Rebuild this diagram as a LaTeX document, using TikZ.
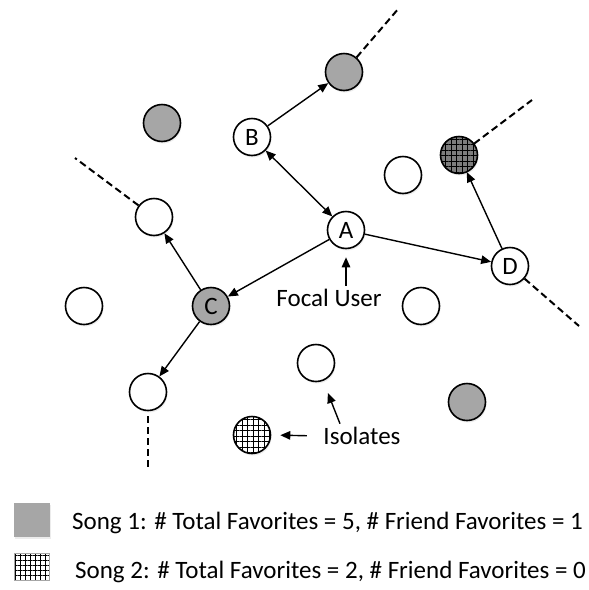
\documentclass[tikz,border=0pt]{standalone}
\usepackage{fontspec}
\setmainfont{Carlito}
\usetikzlibrary{arrows.meta,patterns.meta,shadows}
\definecolor{songgray}{RGB}{166, 166, 166}
\definecolor{songdark}{RGB}{125, 125, 125}

\tikzset{
	user/.style={circle, draw, line width=1.6pt, fill=white, minimum size=37pt, inner sep=0pt,
		drop shadow={shadow xshift=1pt, shadow yshift=-2pt, opacity=0.15}},
	songone/.style={user, fill=songgray},
	songtwo/.style={user, preaction={fill=white}, pattern={Hatch[angle=0, distance=5.5pt, line width=0.9pt]}, pattern color=black},
	songtwodark/.style={user, preaction={fill=songdark}, pattern={Hatch[angle=0, distance=5.5pt, line width=0.9pt]}, pattern color=black},
	link/.style={line width=1.4pt, -{Triangle[length=10pt, width=8.5pt]}},
	friends/.style={line width=2pt, dash pattern=on 7pt off 4pt},
}

\begin{document}
\begin{tikzpicture}[x=1pt, y=-1pt, font=\fontsize{25}{30}\selectfont]
	\useasboundingbox (0,0) rectangle (589,590);
	% users
	\node[songone] (gtop) at (344,72) {};
	\node[user] (b) at (252,137) {B};
	\node[songone] (gleft) at (162,123) {};
	\node[user] (a) at (346,230) {A};
	\node[user] (w1) at (403,175) {};
	\node[songtwodark] (htop) at (459,155) {};
	\node[user] (d) at (510,266) {D};
	\node[user] (w2) at (154,217) {};
	\node[songone] (c) at (211,306) {C};
	\node[user] (w3) at (84,306) {};
	\node[user] (w4) at (148,392) {};
	\node[user] (w5) at (421,306) {};
	\node[user] (w6) at (316,363) {};
	\node[songtwo] (iso) at (252,435) {};
	\node[songone] (gbot) at (467,402) {};
	% rest of the network
	\coordinate (e1) at (399,8);
	\coordinate (e2) at (532,100);
	\coordinate (e3) at (579,326);
	\coordinate (e4) at (75,158);
	\coordinate (e5) at (148,470);
	\draw[friends] (gtop) -- (e1);
	\draw[friends] (htop) -- (e2);
	\draw[friends] (d) -- (e3);
	\draw[friends] (w2) -- (e4);
	\draw[friends, shorten <=5pt] (w4) -- (e5);
	% friendships
	\draw[link] (b) -- (gtop);
	\draw[link, {Triangle[length=10pt, width=8.5pt]}-{Triangle[length=10pt, width=8.5pt]}] (a) -- (b);
	\draw[link] (a) -- (c);
	\draw[link] (a) -- (d);
	\draw[link] (d) -- (htop);
	\draw[link] (c) -- (w2);
	\draw[link] (c) -- (w4);
	% labels
	\node (focal) at (329,298) {Focal User};
	\draw[link, shorten >=8pt] (focal.north -| a) -- (a);
	\node (isolab) at (362,436) {Isolates};
	\draw[link, shorten <=13pt, shorten >=9pt] (isolab.west) -- (iso.east);
	\draw[link, shorten >=13pt] ([xshift=-22pt]isolab.north) -- (w6);
	% legend
	\node[fill=songgray, minimum width=36pt, minimum height=34pt, inner sep=0pt,
		drop shadow={shadow xshift=1pt, shadow yshift=-2pt, opacity=0.15}] (key1) at (32,520) {};
	\node[draw=songgray, line width=1pt, minimum width=35pt, minimum height=27pt, inner sep=0pt,
		preaction={fill=white}, pattern={Hatch[angle=0, distance=5pt, line width=0.9pt]}, pattern color=black] (key2) at (32,567) {};
	\node[anchor=west, inner sep=0pt] (song1) at (72,523) {Song 1: \# Total Favorites = 5, \# Friend Favorites = 1};
	\node[anchor=west, inner sep=0pt] (song2) at (75,572) {Song 2: \# Total Favorites = 2, \# Friend Favorites = 0};
\end{tikzpicture}
\end{document}
